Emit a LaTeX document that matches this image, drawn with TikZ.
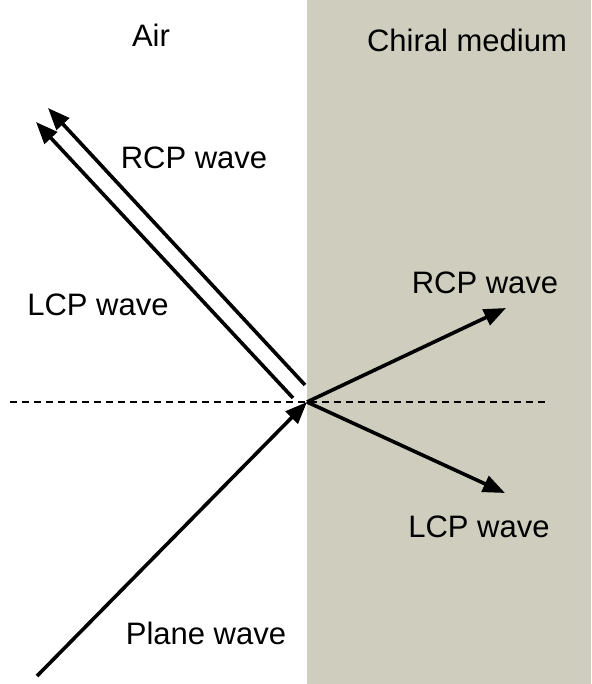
\documentclass[tikz,border=0pt]{standalone}
\usepackage{fontspec}
\setmainfont{Liberation Sans}
\usetikzlibrary{arrows.meta,positioning}
\definecolor{chiralbg}{RGB}{206,205,190}

\begin{document}
\begin{tikzpicture}[x=0.5pt,y=-0.5pt,
  wave/.style={-{Triangle[length=11pt,width=8.5pt]},line width=1.8pt},
  axis/.style={dashed,dash pattern=on 3.5pt off 2.5pt,line width=1.1pt},
  lbl/.style={font=\fontsize{15.5}{18}\selectfont,inner sep=0pt}
]
  \useasboundingbox (0,0) rectangle (591,684);
  % Chiral medium
  \fill[chiralbg] (307,0) rectangle (591,684);

  % Points
  \coordinate (o)      at (307,402);
  \coordinate (src)    at (37,676);
  \coordinate (rcpout) at (506,308);
  \coordinate (lcpout) at (505,493);
  \coordinate (rcpref0) at (305,385);
  \coordinate (rcpref1) at (48,108);
  \coordinate (lcpref0) at (293,398);
  \coordinate (lcpref1) at (36,122);
  \coordinate (axl)    at (10,402);
  \coordinate (axr)    at (548,402);

  % Labels
  \node[lbl] (air)    at (151,35)  {Air};
  \node[lbl] (chiral) at (467,40)  {Chiral medium};
  \node[lbl] (rcpr)   at (194,158) {RCP wave};
  \node[lbl] (lcpr)   at (98,305)  {LCP wave};
  \node[lbl] (rcpt)   at (485,283) {RCP wave};
  \node[lbl] (lcpt)   at (479,527) {LCP wave};
  \node[lbl] (plane)  at (206,633) {Plane wave};

  % Interface normal
  \draw[axis] (axl) -- (axr);

  % Waves
  \draw[wave] (src) -- (o);
  \draw[wave] (o) -- (rcpout);
  \draw[wave] (o) -- (lcpout);
  \draw[wave] (rcpref0) -- (rcpref1);
  \draw[wave] (lcpref0) -- (lcpref1);
\end{tikzpicture}
\end{document}
